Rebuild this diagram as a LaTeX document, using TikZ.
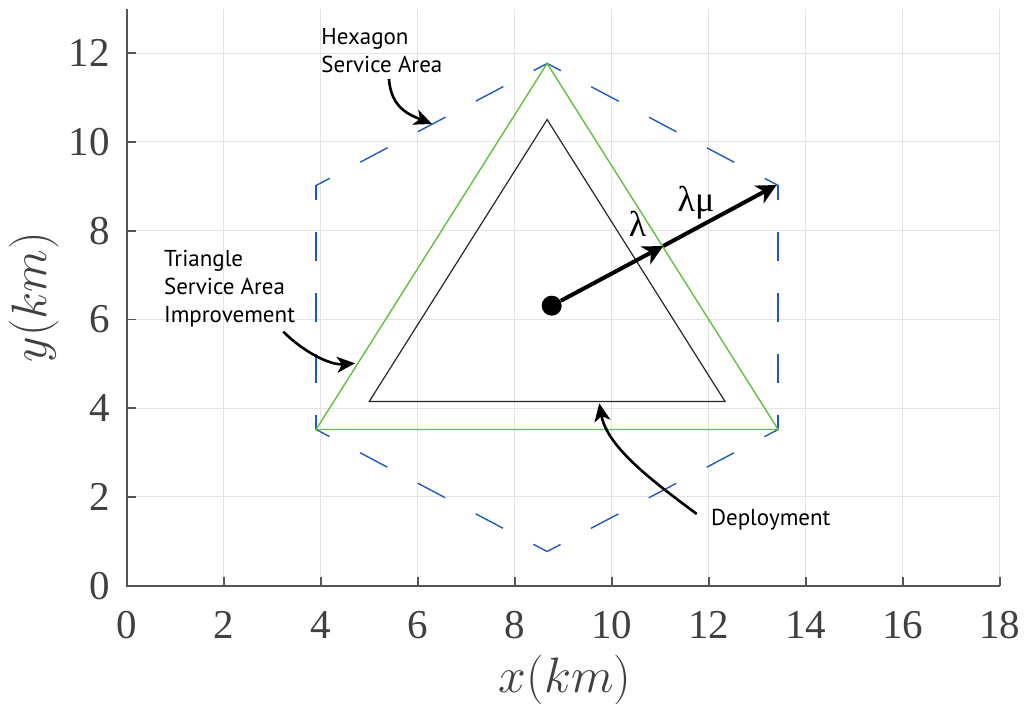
\documentclass[tikz,border=0pt]{standalone}
\usepackage{fontspec}
\setmainfont{Liberation Serif}
\newfontfamily\notefont{PT Sans}
\usetikzlibrary{arrows.meta}
\definecolor{gridgray}{RGB}{228,228,228}
\definecolor{axisgray}{RGB}{85,85,85}
\definecolor{labelgray}{RGB}{64,64,64}
\definecolor{hexblue}{RGB}{30,90,190}
\definecolor{trigreen}{RGB}{100,190,70}

\begin{document}
\begin{tikzpicture}[x=24.25pt,y=22.185pt,
  gridline/.style={draw=gridgray, line width=0.5pt},
  axisline/.style={draw=axisgray, line width=0.85pt},
  ticklbl/.style={text=labelgray, font=\fontsize{20.5}{24}\selectfont, inner sep=0pt},
  axislbl/.style={text=labelgray, font=\fontsize{24}{28}\selectfont, inner sep=0pt},
  hexslant/.style={draw=hexblue, line width=0.7pt, dash pattern=on 15.5pt off 17.2pt, dash phase=7.75pt},
  hexvert/.style={draw=hexblue, line width=0.7pt, dash pattern=on 14.5pt off 16pt, dash phase=7.25pt},
  outertri/.style={draw=trigreen, line width=0.7pt},
  innertri/.style={draw=black!85, line width=0.6pt},
  bigarrow/.style={line width=2pt, -{Stealth[length=10pt, width=10pt, inset=3pt]}},
  notearrow/.style={line width=1.3pt, -{Stealth[length=9pt, width=8pt, inset=2.5pt]}},
  notetext/.style={font=\notefont\fontsize{11.5}{14}\selectfont, align=left, anchor=north west, inner sep=0pt},
  greek/.style={font=\fontsize{18}{20}\selectfont, inner sep=0pt}]
\useasboundingbox (-2.612,-2.644) rectangle (18.584,13.2);
\foreach \v in {2,4,...,18} \draw[gridline] (\v,0) -- (\v,13);
\foreach \v in {2,4,...,12} \draw[gridline] (0,\v) -- (18,\v);
\foreach \v in {0,2,...,18} \draw[axisline] (\v,0) -- (\v,0.2);
\foreach \v in {0,2,...,12} \draw[axisline] (0,\v) -- (0.2,\v);
\draw[axisline] (0,13) -- (0,0) -- (18,0);
\foreach \v in {0,2,...,18} \node[ticklbl] (xt\v) at (\v,-0.886) {\v};
\foreach \v in {0,2,...,12} \node[ticklbl, anchor=east] (yt\v) at (-0.344,\v) {\v};
\node[axislbl] (xlbl) at (9.04,-2.125) {$x(km)$};
\node[axislbl, rotate=90] (ylbl) at (-1.91,6.5) {$y(km)$};
\begin{scope}[shift={(8.669,6.27)}]
\coordinate (h1) at (90:5.5);
\coordinate (h2) at (30:5.5);
\coordinate (h3) at (-30:5.5);
\coordinate (h4) at (-90:5.5);
\coordinate (h5) at (210:5.5);
\coordinate (h6) at (150:5.5);
\coordinate (t1) at (90:4.235);
\coordinate (t2) at (210:4.235);
\coordinate (t3) at (-30:4.235);
\end{scope}
\draw[hexslant] (h6) -- (h1);
\draw[hexslant] (h1) -- (h2);
\draw[hexvert] (h2) -- (h3);
\draw[hexslant] (h3) -- (h4);
\draw[hexslant] (h4) -- (h5);
\draw[hexvert] (h5) -- (h6);
\draw[outertri] (h1) -- (h5) -- (h3) -- cycle;
\draw[innertri] (t1) -- (t2) -- (t3) -- cycle;
\node[circle, fill=black, inner sep=0pt, minimum size=10pt] (dot) at (8.763,6.311) {};
\coordinate (lamend) at (11.064,7.656);
\coordinate (lammuend) at (13.40,9.03);
\draw[bigarrow] (dot) -- (lamend);
\draw[bigarrow] (lamend) -- (lammuend);
\node[greek] (lamlbl) at (10.532,8.163) {λ};
\node[greek] (lammulbl) at (11.738,8.625) {λμ};
\node[notetext] (hexnote) at (4.006,12.576) {Hexagon\\Service Area};
\node[notetext] (trinote) at (0.763,7.566) {Triangle\\Service Area\\Improvement};
\node[notetext] (depnote) at (12.041,1.722) {Deployment};
\coordinate (hexfrom) at (5.408,11.42);
\coordinate (hexto) at (6.295,10.406);
\draw[notearrow] (hexfrom) .. controls +(0.04,-0.66) and +(-0.45,0.2) .. (hexto);
\coordinate (trifrom) at (3.229,5.725);
\coordinate (trito) at (4.707,5.012);
\draw[notearrow] (trifrom) .. controls +(0.41,-0.45) and +(-0.52,-0.045) .. (trito);
\coordinate (depfrom) at (11.753,1.616);
\coordinate (depto) at (9.744,4.111);
\draw[notearrow] (depfrom) .. controls +(-0.825,0.676) and +(0.165,-1.014) .. (depto);
\end{tikzpicture}
\end{document}
